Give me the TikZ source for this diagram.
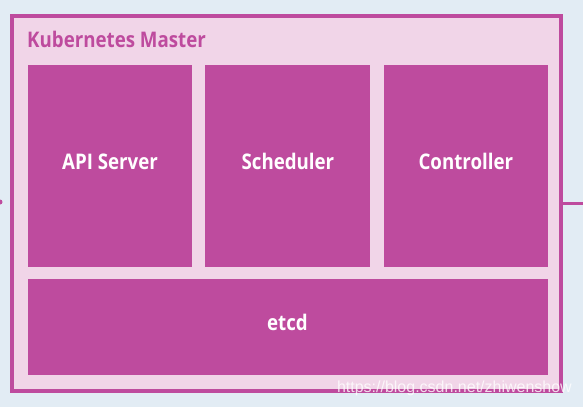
\documentclass[tikz,border=0pt]{standalone}
\usepackage{fontspec}
\setmainfont{Open Sans}[FakeStretch=0.87]
\setsansfont{Liberation Sans}
\usetikzlibrary{positioning}
\definecolor{KMmag}{RGB}{190,75,158}
\definecolor{KMpink}{RGB}{241,213,232}
\definecolor{KMbg}{RGB}{226,236,244}
\tikzset{
  masterbox/.style={draw=KMmag,line width=4pt,fill=KMpink,inner sep=0pt},
  part/.style={fill=KMmag,text=white,align=center,inner sep=0pt,
               text height=15pt,text depth=8pt,
               font=\fontsize{21.5}{24}\selectfont\bfseries},
  heading/.style={text=KMmag,anchor=base west,inner sep=0pt,
                font=\fontsize{21.5}{24}\selectfont\bfseries},
  link/.style={draw=KMmag,line width=3pt},
  wmark/.style={text=white,opacity=0.8,anchor=base east,inner sep=0pt,
               font=\sffamily\fontsize{16}{18}\selectfont}
}
\begin{document}
\begin{tikzpicture}[x=1pt,y=-1pt]
  % background
  \fill[KMbg] (0,0) rectangle (583,407);
  \useasboundingbox (0,0) rectangle (583,407);
  % master box
  \node[masterbox,minimum width=549pt,minimum height=375pt] (kmaster) at (286.5,203.5) {};
  \node[heading] (ktitle) at (27,47) {Kubernetes Master};
  % components
  \node[part,minimum width=164pt,minimum height=202pt] (api) at (110,166) {API Server};
  \node[part,minimum width=165pt,minimum height=202pt,right=13pt of api] (sched) {Scheduler};
  \node[part,minimum width=164pt,minimum height=202pt,right=13pt of sched] (ctrl) {Controller};
  \node[part,minimum width=520pt,minimum height=96pt] (etcd) at (287.5,327) {etcd};
  % links
  \coordinate (out) at (583,203);
  \draw[link] (kmaster.east |- out) -- (out);
  \node[circle,fill=KMmag,inner sep=0pt,minimum size=5pt] (in) at (0,202) {};
  % watermark
  \node[wmark] (wm) at (572,392) {https://blog.csdn.net/zhiwenshow};
\end{tikzpicture}
\end{document}
